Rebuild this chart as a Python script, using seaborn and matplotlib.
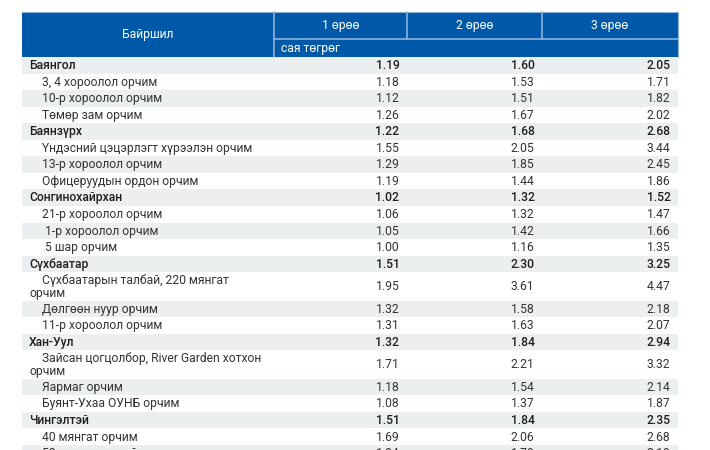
import matplotlib
matplotlib.use("Agg")
import matplotlib.pyplot as plt
from matplotlib.patches import Rectangle
import seaborn as sns

# ---- data ----
col_headers = ["Байршил", "1 өрөө", "2 өрөө", "3 өрөө"]
unit_label = "сая төгрөг"
labels = [
    "Баянгол", "3, 4 хороолол орчим", "10-р хороолол орчим", "Төмөр зам орчим",
    "Баянзүрх", "Үндэсний цэцэрлэгт хүрээлэн орчим", "13-р хороолол орчим", "Офицеруудын ордон орчим",
    "Сонгинохайрхан", "21-р хороолол орчим", " 1-р хороолол орчим", " 5 шар орчим",
    "Сүхбаатар", "Сүхбаатарын талбай, 220 мянгат\nорчим", "Дөлгөөн нуур орчим", "11-р хороолол орчим",
    "Хан-Уул", "Зайсан цогцолбор, River Garden хотхон\nорчим", "Яармаг орчим", "Буянт-Ухаа ОУНБ орчим",
    "Чингэлтэй", "40 мянгат орчим", "50 мянгатын хойд орчим",
]
is_district = [1, 0, 0, 0, 1, 0, 0, 0, 1, 0, 0, 0, 1, 0, 0, 0, 1, 0, 0, 0, 1, 0, 0]
room1 = [1.19, 1.18, 1.12, 1.26, 1.22, 1.55, 1.29, 1.19, 1.02, 1.06, 1.05, 1.00,
         1.51, 1.95, 1.32, 1.31, 1.32, 1.71, 1.18, 1.08, 1.51, 1.69, 1.84]
room2 = [1.60, 1.53, 1.51, 1.67, 1.68, 2.05, 1.85, 1.44, 1.32, 1.32, 1.42, 1.16,
         2.30, 3.61, 1.58, 1.63, 1.84, 2.21, 1.54, 1.37, 1.84, 2.06, 1.79]
room3 = [2.05, 1.71, 1.82, 2.02, 2.68, 3.44, 2.45, 1.86, 1.52, 1.47, 1.66, 1.35,
         3.25, 4.47, 2.18, 2.07, 2.94, 3.32, 2.14, 1.87, 2.35, 2.68, 2.19]

# ---- style ----
sns.set_theme(style="white")
plt.rcParams['font.family'] = ['Roboto', 'DejaVu Sans']

BLUE = "#0059a8"
SEP = "#8db2d8"
GRAY = "#eceff0"
TXT = "#1e1e1e"
SUB = "#333333"

fig = plt.figure(figsize=(7.1, 4.5), dpi=100)
ax = fig.add_axes([0, 0, 1, 1])
W, H = 710, 450
ax.set_xlim(0, W)
ax.set_ylim(H, 0)
ax.axis("off")

# column layout (pixel units of the figure)
x_edges = [22, 273.5, 407, 542, 678]
top = 11.5
hdr_mid = 38.8
hdr_bot = 57.0
row_h = 16.55
row_h2 = 28.5
fs = 8.7

# header background
ax.add_patch(Rectangle((x_edges[0], top), x_edges[-1] - x_edges[0], hdr_bot - top,
                       facecolor=BLUE, edgecolor="none"))
# header separators
ax.plot([x_edges[1], x_edges[1]], [top, hdr_bot], color=SEP, lw=1.2)
for xe in x_edges[2:4]:
    ax.plot([xe, xe], [top, hdr_mid], color=SEP, lw=1.2)
ax.plot([x_edges[1], x_edges[-1]], [hdr_mid, hdr_mid], color=SEP, lw=1.2)
ax.plot([x_edges[0], x_edges[-1]], [top, top], color=SEP, lw=0.8)
ax.plot([x_edges[-1], x_edges[-1]], [top, hdr_bot], color=SEP, lw=0.8)

ax.text((x_edges[0] + x_edges[1]) / 2, (top + hdr_bot) / 2, col_headers[0],
        color="white", fontsize=fs, ha="center", va="center")
for j in range(3):
    ax.text((x_edges[j + 1] + x_edges[j + 2]) / 2, (top + hdr_mid) / 2 + 0.5, col_headers[j + 1],
            color="white", fontsize=fs, ha="center", va="center")
ax.text(x_edges[1] + 7.5, (hdr_mid + hdr_bot) / 2 + 0.5, unit_label,
        color="white", fontsize=fs, ha="left", va="center")

# body rows
y = hdr_bot
for i, lab in enumerate(labels):
    two = "\n" in lab
    h = row_h2 if two else row_h
    if i % 2 == 0:
        ax.add_patch(Rectangle((x_edges[0], y), x_edges[-1] - x_edges[0], h,
                               facecolor=GRAY, edgecolor="none", clip_on=True))
    cy = y + h / 2
    bold = bool(is_district[i])
    weight = "medium" if bold else "normal"
    col = TXT if bold else SUB
    if two:
        l1, l2 = lab.split("\n")
        ax.text(41.5, cy - 6.2, l1, fontsize=fs, color=col, ha="left", va="center", weight=weight)
        ax.text(29, cy + 6.6, l2, fontsize=fs, color=col, ha="left", va="center", weight=weight)
    else:
        xl = 29 if bold else 41.5
        ax.text(xl, cy + 0.3, lab, fontsize=fs, color=col, ha="left", va="center", weight=weight)
    for j, vals in enumerate([room1, room2, room3]):
        ax.text(x_edges[j + 2] - 7.5, cy + 0.3, f"{vals[i]:.2f}", fontsize=fs, color=col,
                ha="right", va="center", weight=weight)
    y += h

fig.savefig("out.png", dpi=100, facecolor="white")
